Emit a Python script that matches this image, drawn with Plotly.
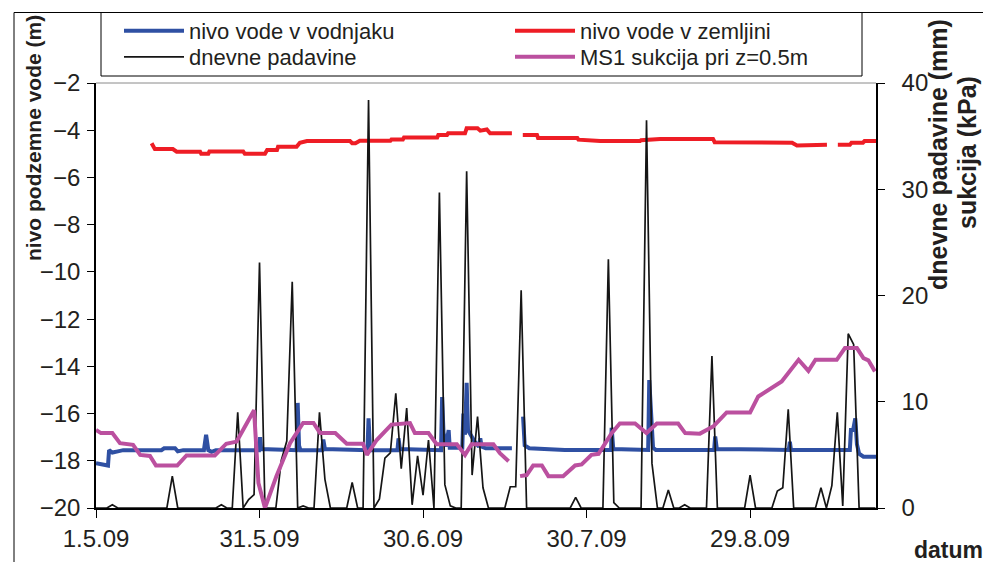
import pandas as pd
import plotly.graph_objects as go

# time axis: days counted from 1.5.2009
START = pd.Timestamp("2009-05-01")
X_END_DAY = 143.1

# x-axis ticks
tick_days = [0, 30, 60, 90, 120]
tick_text = ["1.5.09", "31.5.09", "30.6.09", "30.7.09", "29.8.09"]

# nivo vode v vodnjaku (m) - left axis
well_day = [0.0, 1.5, 2.2, 2.4, 3.0, 4.0, 5.0, 12.0, 12.5, 14.5, 15.0, 16.0, 19.8,
            20.2, 20.35, 20.6, 21.2, 22.0, 29.9, 30.1, 30.3, 36.8, 37.0, 37.25, 37.5,
            41.5, 41.7, 42.0, 49.8, 50.0, 50.25, 50.5, 55.3, 55.5, 55.75, 63.3, 63.5,
            63.75, 64.2, 64.7, 64.9, 67.2, 67.4, 67.7, 68.0, 68.25, 69.0, 69.5, 70.25,
            70.5, 70.75, 71.5, 76.3, 77.3, 78.35, 78.65, 79.5, 86.0, 94.5, 94.6, 94.9,
            101.3, 101.5, 101.8, 102.2, 102.7, 113.4, 113.6, 113.9, 127.1, 127.3, 127.5,
            138.3, 138.5, 138.9, 139.3, 139.6, 140.0, 140.8, 143.1]
well_val = [-18.1, -18.15, -18.2, -17.55, -17.65, -17.6, -17.55, -17.55, -17.47, -17.47,
            -17.6, -17.55, -17.55, -16.9, -17.3, -17.55, -17.62, -17.55, -17.55, -17.0,
            -17.5, -17.55, -15.55, -17.35, -17.55, -17.55, -17.1, -17.5, -17.55, -16.2,
            -17.4, -17.55, -17.55, -17.05, -17.5, -17.55, -15.3, -16.8, -17.4, -16.7,
            -17.45, -17.45, -16.0, -16.9, -14.7, -16.7, -17.0, -17.2, -17.4, -17.05,
            -17.4, -17.47, -17.47, None, -16.13, -17.35, -17.47, -17.54, -17.54, -16.6,
            -17.5, -17.54, -14.58, -15.6, -17.45, -17.54, -17.54, -16.97, -17.5, -17.54,
            -17.2, -17.54, -17.54, -16.7, -16.7, -16.2, -17.3, -17.7, -17.83, -17.83]

# nivo vode v zemljini (m) - left axis
soil_day = [10.2, 10.5, 10.8, 14.1, 14.8, 19.1, 19.3, 20.6, 20.8, 27.0, 27.3, 31.0,
            31.4, 33.2, 33.4, 36.8, 37.4, 38.7, 46.6, 47.0, 47.6, 48.4, 54.0, 54.2,
            56.3, 56.5, 62.6, 62.8, 64.4, 64.6, 67.7, 68.0, 70.0, 70.5, 71.7, 72.3,
            76.3, 77.3, 78.3, 80.9, 81.1, 88.3, 88.5, 92.5, 99.8, 100.0, 103.5, 113.2,
            113.5, 125.5, 127.7, 128.6, 134.1, 135.1, 136.1, 138.3, 138.6, 140.7,
            141.0, 143.1]
soil_val = [-4.55, -4.72, -4.8, -4.8, -4.91, -4.91, -5.0, -5.0, -4.9, -4.9, -5.0, -5.0,
            -4.84, -4.84, -4.7, -4.7, -4.53, -4.46, -4.46, -4.55, -4.55, -4.45, -4.45,
            -4.39, -4.39, -4.31, -4.31, -4.2, -4.2, -4.13, -4.13, -3.92, -3.92, -4.02,
            -3.97, -4.13, -4.13, None, -4.2, -4.2, -4.33, -4.33, -4.4, -4.46, -4.46,
            -4.42, -4.37, -4.37, -4.51, -4.51, -4.53, -4.65, -4.62, None, -4.62, -4.62,
            -4.53, -4.53, -4.46, -4.46]

# dnevne padavine (mm) - right axis, one value per day from 1.5.09
rain_mm = [
    0, 0, 0, 0.3, 0, 0, 0, 0, 0, 0,
    0, 0, 0, 0, 3.0, 0, 0, 0, 0, 0,
    0, 0, 0, 0.3, 0, 0, 9.0, 0, 0.8, 1.25,
    23.1, 0, 0, 0, 4.5, 6.3, 21.3, 0, 0.2, 0,
    0, 9.0, 2.7, 0, 0, 0, 0, 2.4, 0, 0,
    38.4, 0, 0.85, 4.7, 5.2, 10.8, 3.7, 9.4, 0.3, 4.9,
    1.2, 6.4, 0, 29.7, 2.2, 0.2, 0, 0, 31.7, 3.1,
    8.6, 1.9, 0, 0, 0, 0, 2.0, 2.0, 20.5, 0,
    0, 0, 0, 0, 0, 0, 0, 0, 1.0, 0,
    0, 0, 0, 0, 23.4, 0.5, 0, 0, 0, 0,
    0, 36.5, 4.2, 0, 0, 1.7, 0, 0, 0.3, 0,
    0, 0, 0, 14.3, 0, 0, 0, 0, 0, 0,
    3.1, 0, 0, 0, 0, 1.6, 1.9, 9.3, 0, 0,
    0, 0, 0, 1.9, 0, 2.1, 9.0, 0.2, 16.4, 15.4,
    0, 0, 0, 0,
]

# MS1 sukcija pri z=0.5m (kPa) - right axis
suction_day = [0.0, 0.9, 3.0, 4.4, 6.8, 8.1, 9.9, 11.0, 14.9, 16.6, 21.8, 23.9, 25.8,
               27.0, 29.0, 29.8, 31.0, 33.1, 35.6, 38.0, 39.9, 41.1, 43.9, 46.0, 49.0,
               49.7, 51.5, 54.2, 57.6, 58.5, 61.0, 62.5, 66.2, 67.7, 68.9, 72.9, 74.1,
               75.7, 76.7, 77.8, 79.0, 80.2, 81.8, 83.0, 85.7, 87.9, 89.1, 90.9, 92.2,
               94.6, 96.1, 98.9, 101.0, 102.9, 106.8, 108.1, 110.8, 113.3, 115.7, 120.0,
               121.5, 125.8, 128.9, 130.7, 132.0, 135.9, 137.4, 139.6, 140.8, 141.7, 142.9]
suction_kpa = [7.35, 7.05, 7.05, 6.1, 5.95, 5.0, 4.9, 4.0, 4.0, 4.95, 4.95, 6.05, 6.25,
               7.35, 9.2, 2.35, 0.0, 3.0, 6.1, 8.0, 8.0, 7.05, 7.05, 6.05, 6.05, 5.0, 6.4,
               7.85, 8.0, 7.05, 7.05, 6.0, 6.0, 5.0, 6.0, 6.0, 5.15, 4.4, None, 3.0, 3.1,
               4.0, 4.0, 3.0, 3.0, 4.0, 4.1, 5.0, 5.1, 7.05, 7.95, 7.95, 7.05, 7.95, 7.95,
               7.05, 7.0, 7.7, 9.0, 9.0, 10.5, 11.9, 13.95, 12.9, 13.95, 13.95, 15.05,
               15.05, 14.1, 13.9, 12.85]


def to_dates(days):
    return [START + pd.Timedelta(days=d) for d in days]


rain_dates = [START + pd.Timedelta(days=i) for i in range(len(rain_mm))]

FONT = "Liberation Sans, Arial, sans-serif"
TXT = "#231f20"

fig = go.Figure()
fig.add_trace(go.Scatter(x=to_dates(well_day), y=well_val, mode="lines",
                         name="nivo vode v vodnjaku", legend="legend",
                         line=dict(color="#2f50a3", width=4)))
fig.add_trace(go.Scatter(x=to_dates(soil_day), y=soil_val, mode="lines",
                         name="nivo vode v zemljini", legend="legend",
                         line=dict(color="#ee1d25", width=4)))
fig.add_trace(go.Scatter(x=rain_dates, y=rain_mm, mode="lines", yaxis="y2",
                         name="dnevne padavine", legend="legend2",
                         line=dict(color="#151515", width=1.7)))
fig.add_trace(go.Scatter(x=to_dates(suction_day), y=suction_kpa, mode="lines", yaxis="y2",
                         name="MS1 sukcija pri z=0.5m", legend="legend2",
                         line=dict(color="#bb509f", width=4)))

# plot-area geometry in pixels (used to place frame and labels)
W, H = 983, 562
L, R, T, B = 96, 876, 83, 508


def px(xp):
    return (xp - L) / (R - L)


def py(yp):
    return (B - yp) / (B - T)


legend_row = dict(
    orientation="h", xanchor="left", yanchor="middle",
    borderwidth=0, bgcolor="rgba(0,0,0,0)",
    entrywidth=316, itemwidth=60,
    font=dict(family=FONT, size=22, color=TXT),
)

fig.update_layout(
    width=W, height=H,
    margin=dict(l=L, r=W - R, t=T, b=H - B, pad=0, autoexpand=False),
    paper_bgcolor="white", plot_bgcolor="white",
    font=dict(family=FONT, size=22, color=TXT),
    showlegend=True,
    legend=dict(legend_row, x=px(119), y=py(31)),
    legend2=dict(legend_row, x=px(119), y=py(57)),
    xaxis=dict(
        type="date", automargin=False,
        range=[START, START + pd.Timedelta(days=X_END_DAY)],
        tickvals=to_dates(tick_days), ticktext=tick_text,
        ticks="outside", ticklen=8, tickwidth=1, tickcolor="#000",
        showline=True, linecolor="#000", linewidth=2,
        showgrid=False, zeroline=False,
        tickfont=dict(size=24, color=TXT), ticklabelstandoff=0,
    ),
    yaxis=dict(
        automargin=False,
        range=[-20, -2], tickvals=list(range(-20, -1, 2)),
        ticks="outside", ticklen=7, tickwidth=1, tickcolor="#000",
        showline=True, linecolor="#000", linewidth=1.5,
        showgrid=False, zeroline=False,
        tickfont=dict(size=24, color=TXT), ticklabelstandoff=2,
    ),
    yaxis2=dict(
        automargin=False,
        overlaying="y", side="right", range=[0, 40], tickvals=[0, 10, 20, 30, 40],
        ticks="outside", ticklen=7, tickwidth=1, tickcolor="#000",
        showline=True, linecolor="#000", linewidth=1.5,
        showgrid=False, zeroline=False,
        tickfont=dict(size=24, color=TXT), ticklabelstandoff=12,
    ),
    yaxis3=dict(
        automargin=False,
        overlaying="y", side="right", range=[0, 40], tickvals=[0, 10, 20, 30, 40],
        ticks="inside", ticklen=7, tickwidth=1, tickcolor="#000",
        showline=False, showgrid=False, zeroline=False, showticklabels=False,
    ),
    shapes=[
        # top edge of the plot area
        dict(type="line", xref="paper", yref="paper", x0=0, x1=1, y0=1, y1=1,
             line=dict(color="#8a8a8a", width=1)),
        # chart frame
        dict(type="rect", xref="paper", yref="paper",
             x0=px(14), x1=px(995), y0=py(575), y1=py(12.5),
             line=dict(color="#000", width=1), layer="below"),
        # legend box
        dict(type="rect", xref="paper", yref="paper",
             x0=px(101), x1=px(862), y0=py(76), y1=py(12.5),
             line=dict(color="#000", width=1), fillcolor="white", layer="below"),
    ],
    annotations=[
        dict(text="<b>nivo podzemne vode (m)</b>", textangle=-90,
             xref="paper", yref="paper", x=px(33), y=py(138),
             xanchor="center", yanchor="middle", showarrow=False,
             font=dict(size=21, color=TXT)),
        dict(text="<b>dnevne padavine (mm)</b>", textangle=-90,
             xref="paper", yref="paper", x=px(938), y=py(155),
             xanchor="center", yanchor="middle", showarrow=False,
             font=dict(size=25, color=TXT)),
        dict(text="<b>sukcija (kPa)</b>", textangle=-90,
             xref="paper", yref="paper", x=px(967), y=py(153),
             xanchor="center", yanchor="middle", showarrow=False,
             font=dict(size=25, color=TXT)),
        dict(text="<b>datum</b>",
             xref="paper", yref="paper", x=px(912), y=py(550),
             xanchor="left", yanchor="middle", showarrow=False,
             font=dict(size=23, color=TXT)),
    ],
)

fig.write_html("out.html")
